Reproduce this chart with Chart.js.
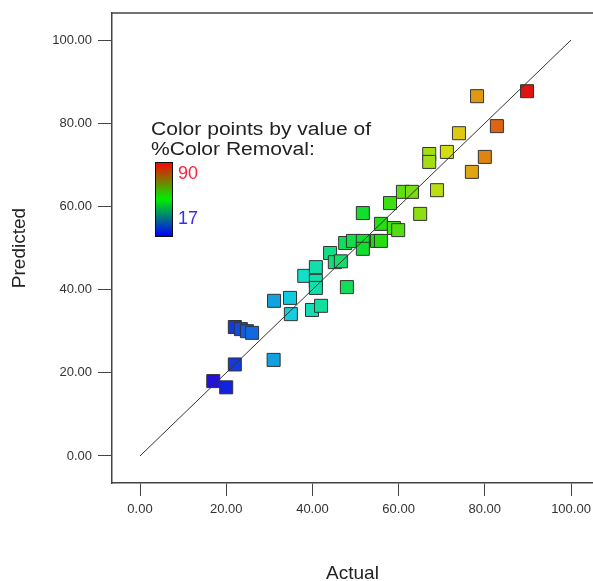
<!DOCTYPE html>
<html>
<head>
<meta charset="utf-8">
<script src="https://cdn.jsdelivr.net/npm/chart.js@4"></script>
<style>
  html, body { margin: 0; padding: 0; background: #fff; }
  #wrap { width: 593px; height: 581px; position: relative; }
</style>
</head>
<body>
<div id="wrap"><canvas id="chart"></canvas></div>
<script>
// values
const actualValues = [
  17.0, 20.0, 22.0, 22.0, 23.4, 24.8, 26.0, 31.0, 31.1, 34.8,
  35.0, 38.1, 40.8, 40.8, 40.8, 39.9, 42.0, 44.1, 45.2, 46.6,
  48.0, 47.6, 49.4, 51.7, 51.7, 55.0, 55.9, 51.7, 55.9, 58.0,
  58.9, 59.9, 61.0, 63.1, 65.0, 68.9, 67.1, 67.1, 71.2, 74.0,
  77.0, 80.0, 78.2, 82.8, 89.8
];
const predictedValues = [
  18.0, 16.5, 22.0, 31.0, 30.5, 30.0, 29.6, 23.1, 37.3, 38.0,
  34.1, 43.3, 45.4, 42.1, 40.4, 35.1, 36.1, 48.8, 46.6, 46.8,
  40.6, 51.2, 51.7, 51.7, 49.8, 51.7, 51.7, 58.4, 55.8, 60.8,
  54.8, 54.3, 63.5, 63.5, 58.2, 63.9, 72.6, 70.7, 73.1, 77.6,
  68.3, 71.9, 86.5, 79.3, 87.7
];
const fitX = [0, 100];
const fitY = [0, 100];
const xTicks = [0, 20, 40, 60, 80, 100];
const yTicks = [0, 20, 40, 60, 80, 100];
const legendLines = ["Color points by value of", "%Color Removal:"];
const colorMin = 17;
const colorMax = 90;

const fontFam = "'Liberation Sans', Arial, sans-serif";

function colorFor(v) {
  let t = (v - colorMin) / (colorMax - colorMin);
  t = Math.max(0, Math.min(1, t));
  const hue = 245 * (1 - t);
  return "hsl(" + hue + ", 85%, 47%)";
}

const points = actualValues.map((a, i) => ({ x: a, y: predictedValues[i] }));
const fitLine = fitX.map((a, i) => ({ x: a, y: fitY[i] }));

// top frame line + colour key
const framePlugin = {
  id: "frame",
  afterDraw(chart) {
    const c = chart.ctx;
    const a = chart.chartArea;
    c.save();
    c.strokeStyle = "#444";
    c.lineWidth = 1.5;
    c.beginPath();
    c.moveTo(a.left, a.top);
    c.lineTo(a.right, a.top);
    c.stroke();

    // key title, a bit wider like the original
    c.font = "18px " + fontFam;
    c.fillStyle = "#222";
    c.textBaseline = "alphabetic";
    legendLines.forEach((txt, i) => {
      c.save();
      c.translate(151, 135 + i * 20);
      c.scale(1.17, 1);
      c.fillText(txt, 0, 0);
      c.restore();
    });

    const g = c.createLinearGradient(0, 162, 0, 236);
    g.addColorStop(0, "#ff0000");
    g.addColorStop(0.5, "#00ee00");
    g.addColorStop(1, "#0000ff");
    c.fillStyle = g;
    c.fillRect(155, 162, 17, 74);
    c.strokeStyle = "#111";
    c.lineWidth = 1;
    c.strokeRect(155.5, 162.5, 17, 74);

    c.textBaseline = "middle";
    c.font = "18px " + fontFam;
    c.fillStyle = "#ff2040";
    c.fillText(String(colorMax), 178, 174);
    c.fillStyle = "#3a2ee8";
    c.fillText(String(colorMin), 178, 219);
    c.restore();
  }
};

const tickFont = { family: fontFam, size: 13 };

new Chart(document.getElementById("chart"), {
  type: "scatter",
  data: {
    datasets: [
      {
        data: fitLine,
        showLine: true,
        borderColor: "#333",
        borderWidth: 1,
        pointRadius: 0,
        pointHoverRadius: 0,
      },
      {
        data: points,
        pointStyle: "rect",
        pointRadius: 9.2,
        pointHoverRadius: 9.2,
        backgroundColor: (ctx) => colorFor(ctx.raw ? ctx.raw.x : colorMin),
        borderColor: "#333",
        borderWidth: 1,
      },
    ],
  },
  options: {
    responsive: true,
    maintainAspectRatio: false,
    animation: false,
    layout: { autoPadding: false, padding: { top: 13, right: 0, bottom: 0, left: 0 } },
    scales: {
      x: {
        type: "linear",
        min: -6.5,
        max: 105.1,
        afterBuildTicks: (s) => { s.ticks = xTicks.map((v) => ({ value: v })); },
        afterFit: (s) => {
          s.height = 98;
          s.paddingLeft = 0;
          s.paddingRight = 0;
        },
        grid: { display: true, drawOnChartArea: false, tickLength: 13, color: "#444", lineWidth: 1 },
        border: { display: true, color: "#444", width: 1.5 },
        ticks: {
          font: tickFont,
          color: "#333",
          padding: 6,
          maxRotation: 0,
          callback: (v) => Number(v).toFixed(2),
        },
        title: {
          display: true,
          text: "Actual",
          font: { family: fontFam, size: 19, lineHeight: 0.8 },
          color: "#222",
          padding: { top: 0, bottom: 0 },
        },
      },
      y: {
        type: "linear",
        min: -6.5,
        max: 106.5,
        afterBuildTicks: (s) => { s.ticks = yTicks.map((v) => ({ value: v })); },
        afterFit: (s) => {
          s.width = 112;
          s.paddingTop = 0;
          s.paddingBottom = 0;
        },
        grid: { display: true, drawOnChartArea: false, tickLength: 14, color: "#444", lineWidth: 1 },
        border: { display: true, color: "#444", width: 1.5 },
        ticks: {
          font: tickFont,
          color: "#333",
          padding: 6,
          callback: (v) => Number(v).toFixed(2),
        },
        title: {
          display: true,
          text: "Predicted",
          font: { family: fontFam, size: 19, lineHeight: 1.2 },
          color: "#222",
          padding: { top: 8, bottom: 0 },
        },
      },
    },
    plugins: {
      legend: { display: false },
      tooltip: { enabled: false },
    },
  },
  plugins: [framePlugin],
});
</script>
</body>
</html>
